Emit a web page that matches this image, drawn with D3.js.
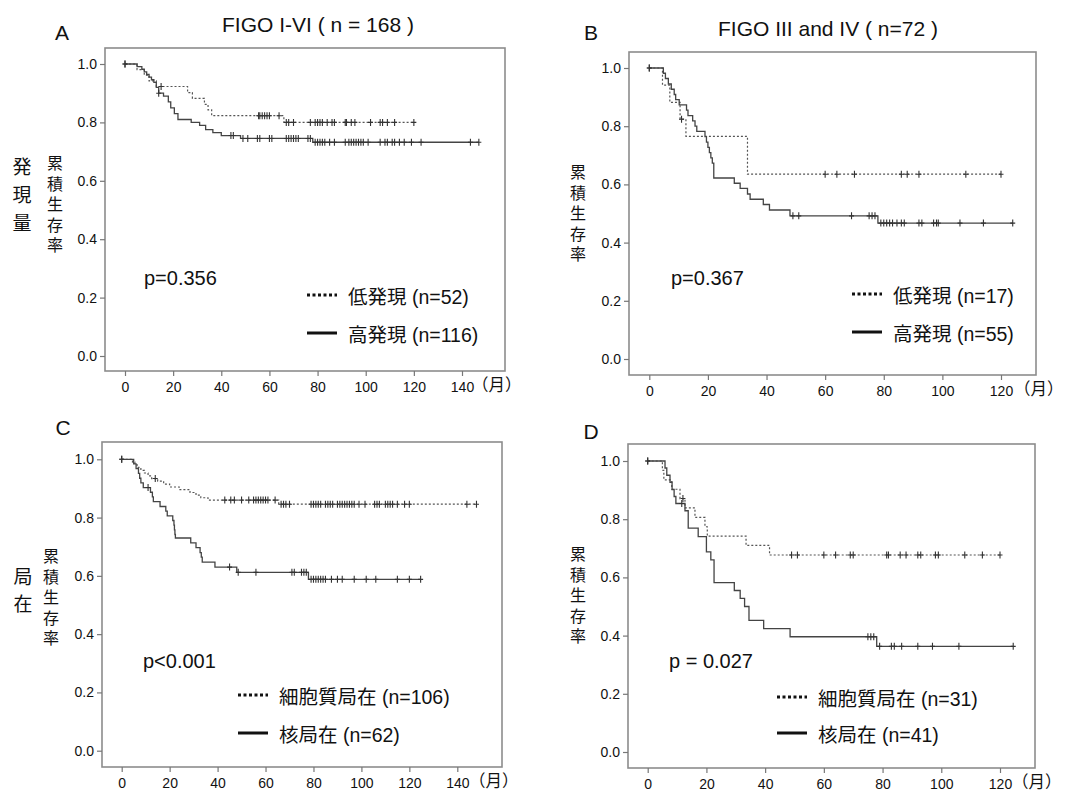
<!DOCTYPE html>
<html>
<head>
<meta charset="utf-8">
<script src="https://cdn.jsdelivr.net/npm/d3@7"></script>
<style>
body { margin: 0; background: #fff; }
text { font-family: "Liberation Sans", Arial, "Noto Sans CJK JP", sans-serif; fill: #111; }
</style>
</head>
<body>
<div id="chart"></div>
<script>
// ---- data: Kaplan-Meier steps [month, survival] and censor times ----
// A: FIGO I-VI, 発現量
var aLowSteps = [[0,1],[5,0.981],[8,0.962],[10,0.942],[13,0.923],[26,0.902],[28,0.882],[33,0.862],[34.5,0.843],[36,0.823],[66,0.80]];
var aLowCens = [0,15,55.5,56,57,58,59,60,64,67,68,70,77,79,80,81,82,84,86,87,91.5,92,94,95.5,102,106,107,109,112,120];
var aHighSteps = [[0,1],[5,0.991],[7,0.982],[8,0.973],[9,0.964],[10,0.955],[11,0.946],[12,0.937],[13,0.92],[14,0.90],[16,0.89],[18,0.87],[19,0.85],[20.5,0.83],[22,0.81],[27.5,0.80],[31,0.79],[33.5,0.775],[36.5,0.765],[40,0.755],[48,0.745],[78,0.732]];
var aHighCens = [0,14,44,45,49,51,55,56,60,61,67,68,69,70,71,72,76,77,79,80,81,82,83,85,87,91.5,93,94,95,96,97,98,99,101,106,108,109,111,112,114,116,119,123,143.5,147];

// B: FIGO III and IV, 発現量
var bLowSteps = [[0,1],[4.5,0.941],[7,0.882],[10.5,0.824],[12.5,0.765],[33.5,0.635]];
var bLowCens = [0,11,60,64,70,86,88,92,108,120];
var bHighSteps = [[0,1],[4.8,0.982],[5.5,0.964],[6.5,0.945],[7.5,0.927],[8.5,0.909],[9,0.891],[10.2,0.873],[12.7,0.855],[13.2,0.836],[14.8,0.818],[15.6,0.80],[16.2,0.782],[19,0.764],[19.5,0.745],[20,0.727],[20.5,0.709],[21,0.691],[21.5,0.673],[22,0.622],[29,0.604],[31,0.586],[33.5,0.567],[34.4,0.549],[38.9,0.531],[41,0.512],[48,0.492],[78,0.467]];
var bHighCens = [0,49,51,69,75,76,77,79,80,81,82,83,84.5,86,87,92,93,97,98,98.6,106,114,124];

// C: FIGO I-VI, 局在
var cLowSteps = [[0,1],[4.5,0.99],[5.5,0.981],[6.5,0.972],[8,0.962],[9.5,0.953],[11,0.943],[12.5,0.934],[15,0.925],[17.5,0.915],[20,0.905],[24,0.896],[28.5,0.886],[31,0.877],[33,0.868],[36,0.86],[65.5,0.846]];
var cLowCens = [0,14,43,45.5,47,50,53,55,56,57,58,59,60,61,64,66.5,67.5,68.5,70,79,80,81,82,83,85,86,87,88,90,91,92,93,94,95,96,97,99,101.5,105.5,106.5,107.5,110,111,112,113,115,118,120,144,148];
var cHighSteps = [[0,1],[5,0.984],[6,0.968],[7,0.952],[7.5,0.935],[8,0.919],[9,0.903],[12,0.887],[12.8,0.871],[13.2,0.855],[16,0.838],[18.4,0.822],[19,0.806],[21.3,0.79],[21.8,0.774],[22,0.758],[22.2,0.742],[22.4,0.73],[28.8,0.713],[31,0.697],[32.7,0.68],[33.2,0.664],[33.6,0.647],[38.9,0.63],[48,0.612],[77.9,0.588]];
var cHighCens = [0,11,45,48.6,56,71,72,75,76,77,79,80,81,82,83,84,85,87.5,90,92,97,102,106,115,120,124.7];

// D: FIGO III and IV, 局在
var dLowSteps = [[0,1],[5,0.968],[5.5,0.935],[8.2,0.903],[11,0.871],[12.7,0.839],[16.1,0.806],[19.5,0.774],[20.3,0.742],[33.5,0.71],[41.5,0.677]];
var dLowCens = [0,12,49,51,60,64,69,70,81.4,82,86,88,92,93,98,99,108,114,120];
var dHighSteps = [[0,1],[5.9,0.976],[6.5,0.951],[7.6,0.927],[8.3,0.902],[9,0.878],[9.6,0.854],[12.7,0.829],[13.8,0.769],[17.2,0.74],[20,0.688],[21.5,0.66],[22.6,0.582],[29.5,0.555],[31.5,0.528],[33,0.50],[34.5,0.452],[39.5,0.424],[48.5,0.396],[78,0.363]];
var dHighCens = [0,11.6,75,76,77,79,83,84,86.5,92,97,106,124.5];

var yTicks = [0, 0.2, 0.4, 0.6, 0.8, 1.0];
var xTicksLong = [0, 20, 40, 60, 80, 100, 120, 140];
var xTicksShort = [0, 20, 40, 60, 80, 100, 120];

var legendExpr = ["低発現", "高発現"];
var legendLoc = ["細胞質局在", "核局在"];

// ---- layout ----
var svg = d3.select("#chart")
  .append("svg")
  .attr("width", 1071)
  .attr("height", 794);

var panels = [
  { letter: "A", lx: 62, ly: 40, title: "FIGO I-VI ( n = 168 )", tx: 318, ty: 32,
    box: [105, 48, 505, 371], xr: [125, 462], xMax: 140, yr: [356, 64], xTicks: xTicksLong,
    low: aLowSteps, lowCens: aLowCens, high: aHighSteps, highCens: aHighCens,
    p: "p=0.356", px: 144, py: 285,
    leg: [legendExpr[0] + " (n=52)", legendExpr[1] + " (n=116)"], legX: 307, legY: [295, 333],
    ytx: 55, yty: 155, month: 472 },
  { letter: "B", lx: 591, ly: 40, title: "FIGO III and IV ( n=72 )", tx: 828, ty: 36,
    box: [629, 52, 1036, 375], xr: [649.3, 1001], xMax: 120, yr: [359, 68], xTicks: xTicksShort,
    low: bLowSteps, lowCens: bLowCens, high: bHighSteps, highCens: bHighCens,
    p: "p=0.367", px: 671, py: 285,
    leg: [legendExpr[0] + " (n=17)", legendExpr[1] + " (n=55)"], legX: 852, legY: [294, 332],
    ytx: 578, yty: 164, month: 1014 },
  { letter: "C", lx: 63, ly: 435, title: null,
    box: [102, 442, 502, 767], xr: [121.7, 457.3], xMax: 140, yr: [750.7, 459.3], xTicks: xTicksLong,
    low: cLowSteps, lowCens: cLowCens, high: cHighSteps, highCens: cHighCens,
    p: "p<0.001", px: 143, py: 668,
    leg: [legendLoc[0] + " (n=106)", legendLoc[1] + " (n=62)"], legX: 238, legY: [695, 733],
    ytx: 51, yty: 548, month: 469 },
  { letter: "D", lx: 591, ly: 439, title: null,
    box: [628, 444, 1035, 768], xr: [647.7, 1000], xMax: 120, yr: [752, 461], xTicks: xTicksShort,
    low: dLowSteps, lowCens: dLowCens, high: dHighSteps, highCens: dHighCens,
    p: "p = 0.027", px: 669, py: 668,
    leg: [legendLoc[0] + " (n=31)", legendLoc[1] + " (n=41)"], legX: 777, legY: [697, 733],
    ytx: 578, yty: 546, month: 1012 }
];

// vertical Japanese label as one text element
function vertical(g, chars, x, yTop, size, spacing) {
  g.append("text")
    .attr("x", x)
    .attr("y", yTop)
    .style("writing-mode", "vertical-rl")
    .style("font-family", "'Noto Sans CJK JP', sans-serif")
    .style("font-size", size + "px")
    .style("letter-spacing", spacing + "px")
    .text(chars);
}
vertical(svg, "発現量", 22, 157, 19, 9);
vertical(svg, "局在", 23, 567, 19, 8);

// value of the step function at time t
function survAt(steps, t) {
  var v = steps[0][1];
  steps.forEach(function(s) { if (s[0] <= t) v = s[1]; });
  return v;
}

panels.forEach(function(p) {
  var g = svg.append("g");

  var x = d3.scaleLinear().domain([0, p.xMax]).range(p.xr);
  var y = d3.scaleLinear().domain([0, 1]).range(p.yr);

  // panel letter and title
  g.append("text").attr("x", p.lx).attr("y", p.ly)
    .attr("text-anchor", "middle").style("font-size", "21px").text(p.letter);
  if (p.title) {
    g.append("text").attr("x", p.tx).attr("y", p.ty)
      .attr("text-anchor", "middle").style("font-size", "21px").text(p.title);
  }

  // frame
  g.append("rect")
    .attr("x", p.box[0]).attr("y", p.box[1])
    .attr("width", p.box[2] - p.box[0]).attr("height", p.box[3] - p.box[1])
    .attr("fill", "none").attr("stroke", "#8c8c8c").attr("stroke-width", 1.6);

  // axes
  var leftAxis = d3.axisLeft(y).tickValues(yTicks).tickFormat(d3.format(".1f")).tickSize(5).tickPadding(3);
  var yAxis = g.append("g").attr("transform", `translate(${p.box[0]},0)`).call(leftAxis);
  var bottomAxis = d3.axisBottom(x).tickValues(p.xTicks).tickSize(5).tickPadding(6);
  var xAxis = g.append("g").attr("transform", `translate(0,${p.box[3]})`).call(bottomAxis);
  [yAxis, xAxis].forEach(function(a) {
    a.select(".domain").remove();
    a.selectAll("line").attr("stroke", "#777").attr("stroke-width", 1.2);
    a.selectAll("text")
      .style("font-size", "14px")
      .style("font-family", "'Liberation Sans', Arial, sans-serif")
      .attr("fill", "#1a1a1a");
  });

  // month unit
  g.append("text").attr("x", p.month).attr("y", p.box[3] + 20)
    .style("font-family", "'Noto Sans CJK JP', sans-serif")
    .style("font-size", "16.5px").text("（月）");

  // y axis title
  vertical(g, "累積生存率", p.ytx, p.yty, 16, 4.5);

  // curves
  var line = d3.line()
    .x(d => x(d[0]))
    .y(d => y(d[1]))
    .curve(d3.curveStepAfter);

  function drawCurve(steps, cens, dashed) {
    var end = d3.max(cens);
    var pts = steps.concat([[end, steps[steps.length - 1][1]]]);
    g.append("path")
      .datum(pts)
      .attr("d", line)
      .attr("fill", "none")
      .attr("stroke", dashed ? "#555" : "#444")
      .attr("stroke-width", dashed ? 1.2 : 1.3)
      .attr("stroke-dasharray", dashed ? "2,2" : null);

    g.selectAll(null)
      .data(cens)
      .enter()
      .append("path")
      .attr("d", function(c) {
        var cx = x(c), cy = y(survAt(steps, c));
        return `M${cx},${cy - 3.5}V${cy + 3.5}M${cx - 2.5},${cy}H${cx + 2.5}`;
      })
      .attr("stroke", "#333")
      .attr("stroke-width", 1.1);
  }
  drawCurve(p.low, p.lowCens, true);
  drawCurve(p.high, p.highCens, false);

  // p value
  g.append("text").attr("x", p.px).attr("y", p.py)
    .style("font-size", "20px").text(p.p);

  // legend
  p.legY.forEach(function(ly, i) {
    g.append("line")
      .attr("x1", p.legX).attr("x2", p.legX + 30)
      .attr("y1", ly).attr("y2", ly)
      .attr("stroke", "#111")
      .attr("stroke-width", 3)
      .attr("stroke-dasharray", i === 0 ? "3,2.5" : null);
    g.append("text")
      .attr("x", p.legX + 41).attr("y", ly + 9)
      .style("font-size", "19.5px")
      .text(p.leg[i]);
  });
});
</script>
</body>
</html>
